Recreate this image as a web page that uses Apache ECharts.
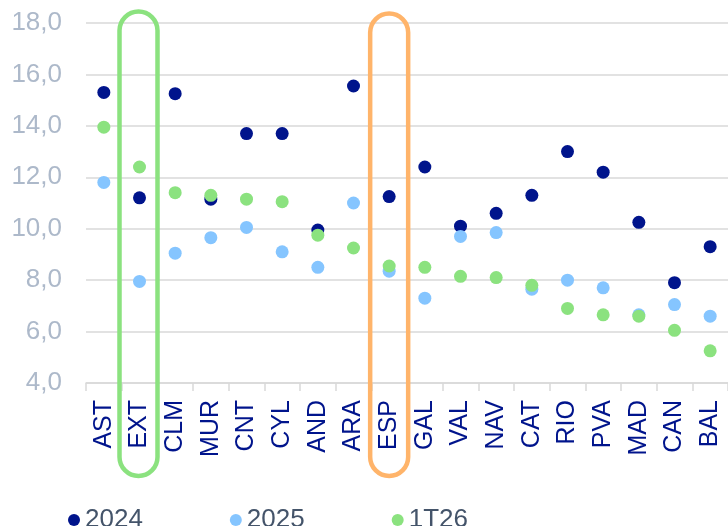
<!DOCTYPE html>
<html>
<head>
<meta charset="utf-8">
<script src="https://cdn.jsdelivr.net/npm/echarts@6/dist/echarts.min.js"></script>
<style>
  html, body { margin: 0; padding: 0; background: #ffffff; }
  #chart { width: 728px; height: 526px; }
</style>
</head>
<body>
<div id="chart"></div>
<script>
// Regions (category axis)
const categories = ['AST','EXT','CLM','MUR','CNT','CYL','AND','ARA','ESP','GAL','VAL','NAV','CAT','RIO','PVA','MAD','CAN','BAL'];

// Series values
const values2024 = [15.3, 11.2, 15.25, 11.15, 13.7, 13.7, 9.95, 15.55, 11.25, 12.4, 10.1, 10.6, 11.3, 13.0, 12.2, 10.25, 7.9, 9.3];
const values2025 = [11.8, 7.95, 9.05, 9.65, 10.05, 9.1, 8.5, 11.0, 8.35, 7.3, 9.7, 9.85, 7.65, 8.0, 7.7, 6.65, 7.05, 6.6];
const values1T26 = [13.95, 12.4, 11.4, 11.3, 11.15, 11.05, 9.75, 9.25, 8.55, 8.5, 8.15, 8.1, 7.8, 6.9, 6.65, 6.6, 6.05, 5.25];

// Value axis ticks
const yMin = 4, yMax = 18, yStep = 2;

// Highlighted categories and their frame colours
const highlightCats = ['EXT', 'ESP'];
const highlightColors = ['#8BE27F', '#FFB46A'];

const colors = { s2024: '#00148C', s2025: '#85C5FF', s1T26: '#8BE27F' };

const chart = echarts.init(document.getElementById('chart'), null, { renderer: 'canvas' });

function dotSeries(name, data, color) {
  return {
    name: name,
    type: 'scatter',
    data: data,
    symbol: 'circle',
    symbolSize: 13,
    itemStyle: { color: color, opacity: 1 },
    emphasis: { disabled: true }
  };
}

chart.setOption({
  animation: false,
  backgroundColor: '#ffffff',
  grid: { left: 86, right: -6, top: 23, bottom: 143, containLabel: false },
  legend: {
    data: ['2024', '2025', '1T26'],
    left: 63,
    top: 501,
    icon: 'circle',
    itemWidth: 12,
    itemHeight: 12,
    itemGap: 87,
    textStyle: { fontFamily: 'Liberation Sans, Arial, sans-serif', fontSize: 26, color: '#44546A', lineHeight: 28 }
  },
  xAxis: {
    type: 'category',
    data: categories,
    boundaryGap: true,
    axisLine: { show: true, lineStyle: { color: '#D9D9D9', width: 1.5 } },
    axisTick: { show: true, length: 8, lineStyle: { color: '#D9D9D9', width: 1.5 } },
    axisLabel: {
      rotate: 90,
      margin: 17,
      interval: 0,
      fontFamily: 'Liberation Sans, Arial, sans-serif',
      fontSize: 25,
      color: '#00148C'
    },
    splitLine: { show: false }
  },
  yAxis: {
    type: 'value',
    min: yMin,
    max: yMax,
    interval: yStep,
    axisLine: { show: false },
    axisTick: { show: false },
    axisLabel: {
      margin: 24,
      fontFamily: 'Liberation Sans, Arial, sans-serif',
      fontSize: 26,
      color: '#ADB9CA',
      formatter: v => v.toFixed(1).replace('.', ',')
    },
    splitLine: { show: true, lineStyle: { color: '#D9D9D9', width: 1.5 } }
  },
  series: [
    dotSeries('2024', values2024, colors.s2024),
    dotSeries('2025', values2025, colors.s2025),
    dotSeries('1T26', values1T26, colors.s1T26)
  ]
});

// Rounded frames around the highlighted categories, centred on the category positions
const frameWidth = 38;
const frameOffsets = [-1, 0];
const frameTops = [11.5, 13.5];
const frameBottom = 476;
const frames = highlightCats.map((cat, i) => {
  const cx = chart.convertToPixel({ xAxisIndex: 0 }, cat) + frameOffsets[i];
  const top = frameTops[i];
  return {
    type: 'rect',
    shape: { x: cx - frameWidth / 2, y: top, width: frameWidth, height: frameBottom - top, r: frameWidth / 2 },
    style: { fill: 'none', stroke: highlightColors[i], lineWidth: 4.5 },
    z: 100,
    silent: true
  };
});
chart.setOption({ graphic: frames });
</script>
</body>
</html>
